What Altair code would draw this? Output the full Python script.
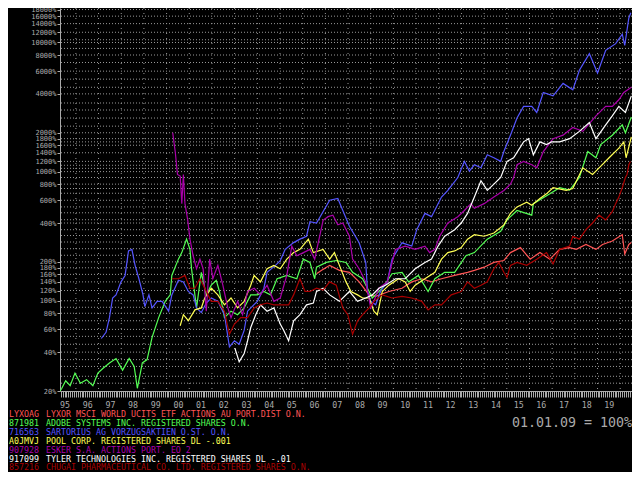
import altair as alt
import pandas as pd

# ---------------- data ----------------
codes = ["LYXOAG", "871981", "716563", "A0JMVJ", "907928", "917099", "857216"]
names = [
    "LYXOR MSCI WORLD UCITS ETF ACTIONS AU PORT.DIST O.N.",
    "ADOBE SYSTEMS INC. REGISTERED SHARES O.N.",
    "SARTORIUS AG VORZUGSAKTIEN O.ST. O.N.",
    "POOL CORP. REGISTERED SHARES DL -.001",
    "ESKER S.A. ACTIONS PORT. EO 2",
    "TYLER TECHNOLOGIES INC. REGISTERED SHARES DL -.01",
    "CHUGAI PHARMACEUTICAL CO. LTD. REGISTERED SHARES O.N.",
]
colors = ["#ff5555", "#55ff55", "#5555ff", "#ffff55", "#aa00aa", "#ffffff", "#aa0000"]

lyxor_years = [2006.61, 2006.90, 2007.19, 2007.62, 2008.06, 2008.49, 2008.93, 2009.22, 2009.80, 2010.38,
               2010.81, 2011.25, 2011.68, 2012.12, 2012.70, 2013.27, 2013.57, 2014.00, 2014.43, 2014.87,
               2015.16, 2015.60, 2016.03, 2016.46, 2016.90, 2017.33, 2017.77, 2018.06, 2018.49, 2018.93,
               2019.22, 2019.65, 2020.09, 2020.20, 2020.38, 2020.49]
lyxor_values = [162, 175, 188, 172, 166, 140, 111, 108, 118, 125,
                140, 148, 140, 148, 157, 166, 172, 182, 198, 205,
                236, 258, 210, 236, 210, 250, 258, 250, 273, 250,
                273, 290, 325, 230, 273, 282]

adobe_years = [1995.30, 1995.38, 1995.55, 1995.75, 1995.96, 1996.20, 1996.47, 1996.75, 1996.97, 1997.20,
               1997.48, 1997.77, 1998.06, 1998.35, 1998.57, 1998.71, 1998.93, 1999.14, 1999.36, 1999.65,
               1999.94, 2000.16, 2000.23, 2000.52, 2000.67, 2000.88, 2001.03, 2001.10, 2001.32, 2001.53,
               2001.75, 2001.97, 2002.19, 2002.33, 2002.55, 2002.84, 2003.13, 2003.42, 2003.71, 2004.00,
               2004.29, 2004.58, 2004.87, 2005.30, 2005.74, 2006.03, 2006.32, 2006.53, 2006.61, 2007.04,
               2007.48, 2007.91, 2008.20, 2008.64, 2008.93, 2009.07, 2009.51, 2009.94, 2010.38, 2010.67,
               2011.10, 2011.53, 2011.83, 2012.26, 2012.70, 2013.20, 2013.57, 2014.14, 2014.73, 2015.01,
               2015.45, 2016.10, 2016.17, 2016.90, 2017.33, 2017.77, 2018.20, 2018.57, 2018.93, 2019.14,
               2019.65, 2020.09, 2020.23, 2020.49]
adobe_values = [20, 21, 24, 22, 27.5, 23, 24.5, 22, 27.5, 30,
                33, 35.7, 29, 35.7, 31, 21, 33, 35, 52, 74,
                99, 111, 157, 210, 236, 300, 250, 177, 88, 166,
                111, 132, 144, 118, 74, 83, 78, 88, 111, 111,
                118, 111, 148, 157, 148, 210, 198, 148, 182, 198,
                205, 198, 166, 148, 118, 105, 125, 162, 166, 140,
                157, 118, 148, 166, 166, 223, 236, 300, 345, 423,
                500, 460, 565, 673, 750, 720, 900, 1430, 1280, 1620,
                1915, 2300, 2000, 2650]

sartorius_years = [1997.12, 1997.33, 1997.48, 1997.62, 1997.77, 1997.99, 1998.17, 1998.32, 1998.47, 1998.61,
                   1998.78, 1998.96, 1999.04, 1999.22, 1999.36, 1999.58, 1999.80, 2000.09, 2000.23, 2000.52,
                   2000.74, 2000.96, 2001.17, 2001.32, 2001.53, 2001.75, 2001.97, 2002.26, 2002.55, 2002.77,
                   2002.99, 2003.20, 2003.42, 2003.57, 2004.00, 2004.29, 2004.43, 2004.80, 2005.01, 2005.23,
                   2005.60, 2005.88, 2006.17, 2006.32, 2006.61, 2007.19, 2007.55, 2007.77, 2008.06, 2008.49,
                   2008.78, 2008.86, 2009.00, 2009.22, 2009.43, 2009.73, 2009.94, 2010.38, 2010.81, 2011.03,
                   2011.39, 2011.68, 2012.12, 2012.40, 2012.84, 2013.13, 2013.35, 2013.57, 2013.86, 2014.14,
                   2014.43, 2014.73, 2014.87, 2015.16, 2015.45, 2015.74, 2016.10, 2016.32, 2016.61, 2017.04,
                   2017.48, 2017.91, 2018.20, 2018.64, 2019.00, 2019.36, 2019.80, 2020.09, 2020.20, 2020.38,
                   2020.47]
sartorius_values = [51, 57, 74, 105, 111, 140, 157, 243, 250, 188,
                    148, 111, 90, 111, 88, 99, 99, 83, 111, 144,
                    140, 118, 111, 88, 81, 96, 105, 99, 78, 44,
                    49, 46, 59, 83, 99, 125, 166, 188, 204, 250,
                    282, 300, 316, 410, 400, 600, 620, 500, 377, 281,
                    198, 118, 99, 93, 118, 140, 210, 281, 265, 355,
                    475, 448, 635, 715, 900, 1200, 1010, 1130, 1070, 1350,
                    1280, 1200, 1430, 1915, 2600, 3200, 3200, 2870, 4100, 3860,
                    4820, 4300, 6100, 8200, 5800, 8700, 9800, 11600, 9500, 15500,
                    17000]

pool_years = [2000.60, 2000.74, 2000.96, 2001.25, 2001.53, 2001.68, 2001.97, 2002.26, 2002.55, 2002.84,
              2003.13, 2003.42, 2003.71, 2003.86, 2004.14, 2004.43, 2004.73, 2005.01, 2005.30, 2005.60,
              2005.88, 2006.25, 2006.47, 2006.90, 2007.19, 2007.40, 2007.62, 2007.91, 2008.13, 2008.42,
              2008.64, 2008.93, 2009.14, 2009.29, 2009.51, 2009.80, 2010.23, 2010.52, 2010.74, 2010.96,
              2011.39, 2011.83, 2012.12, 2012.40, 2012.70, 2012.99, 2013.27, 2013.57, 2014.00, 2014.43,
              2014.87, 2015.16, 2015.45, 2015.88, 2016.10, 2016.46, 2016.75, 2017.04, 2017.62, 2017.91,
              2018.35, 2018.78, 2019.07, 2019.51, 2019.94, 2020.16, 2020.26, 2020.49]
pool_values = [64, 78, 70, 85, 88, 105, 125, 111, 93, 105,
               88, 99, 132, 157, 140, 177, 188, 177, 210, 236,
               250, 300, 236, 250, 210, 236, 188, 140, 118, 111,
               105, 105, 83, 78, 118, 132, 148, 140, 118, 132,
               148, 166, 210, 236, 243, 258, 300, 325, 316, 335,
               387, 475, 533, 580, 550, 620, 673, 750, 715, 740,
               1070, 950, 1070, 1280, 1520, 1700, 1280, 1860]

esker_years = [2000.27, 2000.38, 2000.48, 2000.60, 2000.67, 2000.74, 2000.81, 2000.93, 2001.03, 2001.17,
               2001.32, 2001.47, 2001.61, 2001.75, 2001.90, 2002.04, 2002.26, 2002.48, 2002.70, 2002.84,
               2003.13, 2003.35, 2003.57, 2003.86, 2004.14, 2004.43, 2004.73, 2005.01, 2005.30, 2005.52,
               2005.74, 2006.03, 2006.32, 2006.53, 2006.90, 2007.12, 2007.33, 2007.55, 2007.77, 2008.06,
               2008.20, 2008.49, 2008.78, 2009.00, 2009.14, 2009.36, 2009.73, 2010.09, 2010.52, 2010.96,
               2011.39, 2011.60, 2011.83, 2012.04, 2012.40, 2012.84, 2013.13, 2013.42, 2013.57, 2014.00,
               2014.43, 2014.87, 2015.16, 2015.30, 2015.45, 2015.74, 2016.10, 2016.32, 2016.61, 2017.04,
               2017.48, 2017.91, 2018.35, 2018.93, 2019.36, 2019.65, 2019.94, 2020.16, 2020.49]
esker_values = [2000, 1430, 950, 925, 565, 950, 565, 423, 300, 223,
                177, 210, 177, 83, 210, 148, 188, 132, 88, 74,
                99, 78, 118, 125, 111, 132, 99, 105, 157, 265,
                223, 236, 250, 210, 420, 448, 460, 387, 400, 316,
                210, 177, 140, 88, 99, 125, 140, 250, 265, 250,
                265, 236, 250, 316, 400, 448, 500, 565, 520, 565,
                635, 715, 800, 900, 1130, 1200, 1130, 1070, 1430, 1800,
                1915, 2200, 2050, 2700, 3200, 3200, 3600, 4100, 4500]

tyler_years = [2003.01, 2003.20, 2003.42, 2003.57, 2003.71, 2003.93, 2004.14, 2004.43, 2004.73, 2005.01,
               2005.16, 2005.38, 2005.60, 2005.88, 2006.17, 2006.47, 2006.61, 2006.90, 2007.19, 2007.62,
               2008.06, 2008.42, 2008.78, 2009.07, 2009.36, 2009.65, 2010.09, 2010.52, 2010.96, 2011.39,
               2011.68, 2011.97, 2012.26, 2012.70, 2012.99, 2013.27, 2013.57, 2013.86, 2014.14, 2014.43,
               2014.73, 2015.01, 2015.30, 2015.74, 2015.96, 2016.17, 2016.46, 2016.75, 2016.97, 2017.33,
               2017.77, 2018.20, 2018.64, 2018.93, 2019.36, 2019.65, 2019.94, 2020.23, 2020.49]
tyler_values = [43, 33.7, 39, 49, 62, 78, 93, 83, 88, 66,
                59, 49, 70, 78, 93, 96, 118, 125, 111, 99,
                118, 99, 105, 111, 125, 132, 148, 148, 177, 198,
                210, 265, 316, 355, 400, 475, 635, 850, 715, 800,
                900, 1200, 1280, 1700, 1800, 1350, 1700, 1620, 1700, 1700,
                1800, 2050, 2400, 1800, 2300, 2700, 3200, 2870, 3860]

chugai_years = [2000.23, 2000.52, 2000.81, 2001.03, 2001.25, 2001.47, 2001.68, 2001.97, 2002.26, 2002.55,
                2002.77, 2002.99, 2003.27, 2003.57, 2003.86, 2004.14, 2004.43, 2004.73, 2005.01, 2005.38,
                2005.60, 2005.88, 2006.10, 2006.32, 2006.61, 2006.90, 2007.19, 2007.48, 2007.77, 2007.99,
                2008.20, 2008.42, 2008.64, 2008.93, 2009.14, 2009.51, 2009.94, 2010.38, 2010.81, 2011.25,
                2011.53, 2011.83, 2012.12, 2012.55, 2012.99, 2013.27, 2013.57, 2013.86, 2014.14, 2014.43,
                2014.65, 2014.87, 2015.01, 2015.16, 2015.45, 2015.88, 2016.32, 2016.75, 2017.04, 2017.33,
                2017.77, 2017.91, 2018.20, 2018.49, 2018.78, 2019.07, 2019.36, 2019.65, 2019.80, 2019.94,
                2020.09, 2020.23, 2020.30, 2020.38, 2020.45]
chugai_values = [148, 148, 157, 125, 125, 148, 125, 99, 99, 83,
                 55, 66, 74, 74, 88, 93, 96, 93, 93, 93,
                 111, 148, 118, 118, 125, 121, 140, 132, 88, 78,
                 55, 70, 78, 88, 99, 111, 105, 108, 105, 99,
                 85, 93, 93, 111, 118, 140, 125, 132, 140, 177,
                 198, 166, 152, 188, 198, 188, 210, 236, 193, 250,
                 265, 316, 300, 355, 400, 460, 423, 490, 565, 635,
                 750, 900, 950, 1130, 1200]

y_label_values = [20, 40, 60, 80, 100, 120, 140, 160, 180, 200, 400, 600, 800, 1000, 1200, 1400,
                  1600, 1800, 2000, 4000, 6000, 8000, 10000, 12000, 14000, 16000, 18000]
y_grid_values = [23, 26, 31, 35, 40, 46, 53, 60, 70, 80, 89, 100, 120, 140, 160, 180, 200, 225, 253,
                 285, 320, 355, 400, 424, 480, 533, 600, 680, 740, 800, 900, 1000, 1060, 1120, 1200,
                 1400, 1600, 1700, 1800, 2000, 2250, 2600, 3000, 3400, 4000, 4500, 5200, 6000, 7000,
                 8000, 9000, 10000, 10500, 12000, 14000, 16000, 18000]
year_lines = list(range(1996, 2021))
base_note = "01.01.09 = 100%"

# ---------------- chart ----------------
GREY = "#aaaaaa"
FONT = "DejaVu Sans Mono"
X_DOMAIN = [1995.30, 2020.52]
W, H = 572, 383

series = [(lyxor_years, lyxor_values), (adobe_years, adobe_values),
          (sartorius_years, sartorius_values), (pool_years, pool_values),
          (esker_years, esker_values), (tyler_years, tyler_values),
          (chugai_years, chugai_values)]
frames = []
for i, (ys, vs) in enumerate(series):
    assert len(ys) == len(vs), (i, len(ys), len(vs))
    frames.append(pd.DataFrame({"name": names[i], "year": ys, "value": vs, "k": i}))
df = pd.concat(frames, ignore_index=True)

month_ticks = [round(y + m / 12, 5) for y in range(1995, 2021) for m in range(12)
               if X_DOMAIN[0] <= y + m / 12 <= X_DOMAIN[1]]

x_scale = alt.Scale(domain=X_DOMAIN, nice=False, zero=False)
y_scale = alt.Scale(type="log", domain=[20, 18500], nice=False)

x_axis = alt.Axis(values=month_ticks,
                  labelExpr="(abs(datum.value - floor(datum.value) - 0.5) < 0.02 && datum.value < 2020) ? substring(toString(floor(datum.value)), 2, 4) : ''",
                  grid=False, domainColor=GREY, tickColor=GREY, tickSize=6, tickWidth=1,
                  labelColor=GREY, labelFont=FONT, labelFontSize=8.3, labelPadding=3,
                  labelOverlap=False, labelFlush=False, title=None)
y_axis = alt.Axis(values=y_label_values, labelExpr="datum.value + '%'", grid=False,
                  domainColor=GREY, tickColor=GREY, tickSize=3, labelColor=GREY,
                  labelFont=FONT, labelFontSize=7, labelPadding=1, labelOverlap=False,
                  title=None)

hgrid = alt.Chart(pd.DataFrame({"v": y_grid_values})).mark_rule(
    color="#999999", strokeWidth=1, strokeDash=[1, 2]
).encode(y=alt.Y("v:Q", scale=y_scale, axis=y_axis))

vgrid = alt.Chart(pd.DataFrame({"yr": year_lines})).mark_rule(
    color="#999999", strokeWidth=1, strokeDash=[1, 4]
).encode(x=alt.X("yr:Q", scale=x_scale, axis=x_axis))

lines = alt.Chart(df).mark_line(strokeWidth=1.2, clip=True).encode(
    x=alt.X("year:Q", scale=x_scale, axis=x_axis),
    y=alt.Y("value:Q", scale=y_scale, axis=y_axis),
    color=alt.Color("name:N", scale=alt.Scale(domain=names, range=colors), legend=None),
    detail="k:N",
)

texts = []
for i in range(len(names)):
    ypix = 407 + 8.9 * i
    texts.append(alt.Chart(pd.DataFrame({"t": [codes[i]]})).mark_text(
        font=FONT, fontSize=8.3, color=colors[i], align="left", baseline="middle"
    ).encode(text="t:N", x=alt.value(-51), y=alt.value(ypix)))
    texts.append(alt.Chart(pd.DataFrame({"t": [names[i]]})).mark_text(
        font=FONT, fontSize=8.3, color=colors[i], align="left", baseline="middle"
    ).encode(text="t:N", x=alt.value(-14), y=alt.value(ypix)))

note = alt.Chart(pd.DataFrame({"t": [base_note]})).mark_text(
    font=FONT, fontSize=13.3, color=GREY, align="right", baseline="middle"
).encode(text="t:N", x=alt.value(W), y=alt.value(414.7))

chart = alt.layer(hgrid, vgrid, lines, note, *texts).properties(
    width=W, height=H,
    autosize=alt.AutoSizeParams(type="none"),
    padding={"left": 52, "top": 0, "right": 0, "bottom": 81},
).configure(background="black").configure_view(stroke=None)

chart.save("out.html", embed_options={"renderer": "svg", "actions": False})
